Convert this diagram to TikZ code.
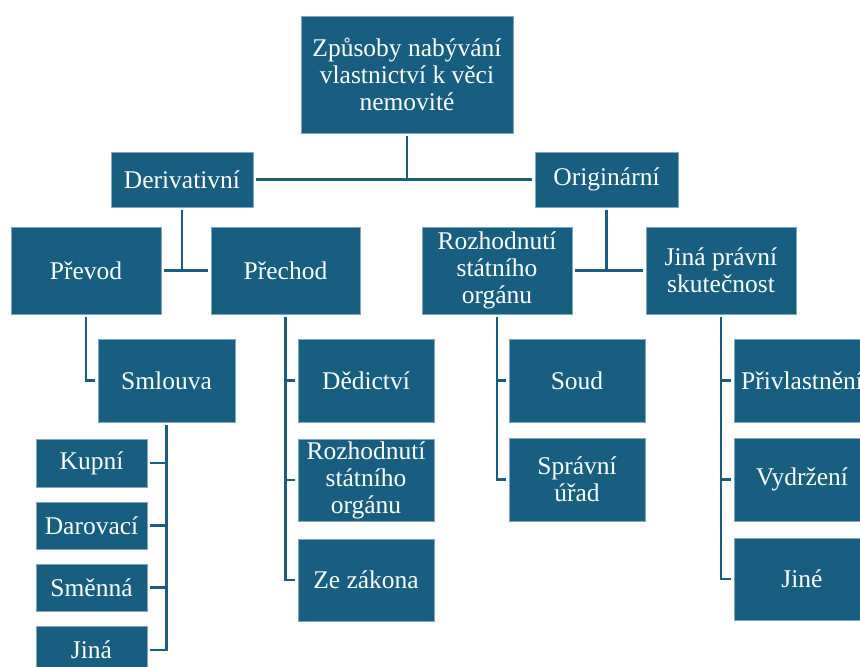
\documentclass[tikz,border=0pt]{standalone}
\usepackage{fontspec}
\setmainfont{Liberation Serif}
\definecolor{boxc}{RGB}{24,94,128}
\definecolor{linec}{RGB}{28,92,124}
\begin{document}
\begin{tikzpicture}[x=1pt,y=-1pt,
  bx/.style={fill=boxc, draw=boxc!55!white, line width=0.6pt, text=white, align=center,
             inner sep=0pt, font=\fontsize{25.5}{27}\selectfont},
  conn/.style={draw=linec, line width=2.4pt, shorten <=2.5pt, shorten >=2.5pt}]
\useasboundingbox (0,0) rectangle (860,667);
\clip (0,0) rectangle (860,667);
% level 0
\node[bx, minimum width=212, minimum height=117] (top) at (407,74.5) {Způsoby nabývání\\vlastnictví k věci\\nemovité};
% level 1
\node[bx, minimum width=142, minimum height=55] (deriv) at (182,179.5) {Derivativní};
\node[bx, minimum width=143, minimum height=55] (orig) at (606.5,179.5) {Originární};
% level 2
\node[bx, minimum width=150, minimum height=87] (prevod) at (86,270.5) {Převod};
\node[bx, minimum width=149, minimum height=87] (prechod) at (285.5,270.5) {Přechod};
\node[bx, minimum width=150, minimum height=87] (rso) at (497,270.5) {Rozhodnutí\\státního\\orgánu};
\node[bx, minimum width=150, minimum height=87] (jps) at (721,270.5) {Jiná právní\\skutečnost};
% level 3
\node[bx, minimum width=137, minimum height=83] (smlouva) at (166.5,380.5) {Smlouva};
\node[bx, minimum width=136, minimum height=83] (dedictvi) at (366,380.5) {Dědictví};
\node[bx, minimum width=136, minimum height=82] (rsob) at (366,480) {Rozhodnutí\\státního\\orgánu};
\node[bx, minimum width=136, minimum height=82] (zakon) at (366,580) {Ze zákona};
\node[bx, minimum width=136, minimum height=83] (soud) at (577,380.5) {Soud};
\node[bx, minimum width=136, minimum height=83] (spravni) at (577,479.5) {Správní\\úřad};
\node[bx, minimum width=136, minimum height=83] (privl) at (802,380.5) {Přivlastnění};
\node[bx, minimum width=136, minimum height=83] (vydrz) at (802,479.5) {Vydržení};
\node[bx, minimum width=136, minimum height=82] (jine) at (802,579) {Jiné};
% level 4
\node[bx, minimum width=111, minimum height=48] (kupni) at (91.5,463) {Kupní};
\node[bx, minimum width=111, minimum height=47] (darovaci) at (91.5,525.5) {Darovací};
\node[bx, minimum width=111, minimum height=47] (smenna) at (91.5,587.5) {Směnná};
\node[bx, minimum width=111, minimum height=48] (jina) at (91.5,650) {Jiná};
% connectors
\coordinate (j0) at (top.south |- deriv.east);
\coordinate (j1) at (deriv.south |- prevod.east);
\coordinate (j2) at (orig.south |- rso.east);
\draw[conn] (deriv.east) -- (orig.west);
\draw[conn, shorten >=0pt] (top.south) -- (j0);
\draw[conn] (prevod.east) -- (prechod.west);
\draw[conn, shorten >=0pt] (deriv.south) -- (j1);
\draw[conn] (rso.east) -- (jps.west);
\draw[conn, shorten >=0pt] (orig.south) -- (j2);
\draw[conn] (prevod.south) |- (smlouva.west);
\draw[conn] (smlouva.south) |- (jina.east);
\draw[conn, shorten <=0pt] (smlouva.south |- kupni.east) -- (kupni.east);
\draw[conn, shorten <=0pt] (smlouva.south |- darovaci.east) -- (darovaci.east);
\draw[conn, shorten <=0pt] (smlouva.south |- smenna.east) -- (smenna.east);
\draw[conn] (prechod.south) |- (zakon.west);
\draw[conn, shorten <=0pt] (prechod.south |- dedictvi.west) -- (dedictvi.west);
\draw[conn, shorten <=0pt] (prechod.south |- rsob.west) -- (rsob.west);
\draw[conn] (rso.south) |- (spravni.west);
\draw[conn, shorten <=0pt] (rso.south |- soud.west) -- (soud.west);
\draw[conn] (jps.south) |- (jine.west);
\draw[conn, shorten <=0pt] (jps.south |- privl.west) -- (privl.west);
\draw[conn, shorten <=0pt] (jps.south |- vydrz.west) -- (vydrz.west);
\end{tikzpicture}
\end{document}
